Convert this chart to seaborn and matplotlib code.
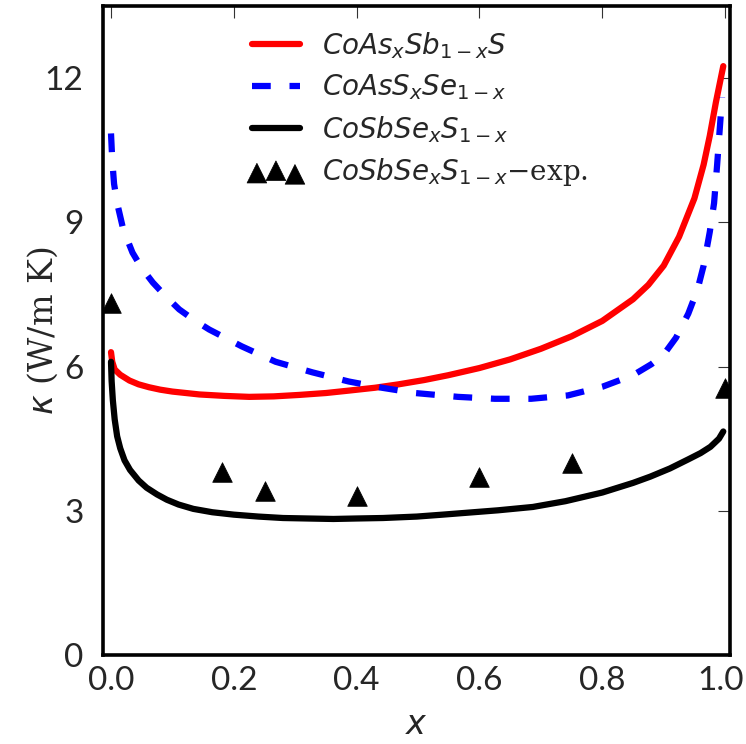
import numpy as np
import pandas as pd
import matplotlib
matplotlib.use("Agg")
import matplotlib.pyplot as plt
import matplotlib.transforms as mtransforms
import seaborn as sns
from matplotlib.legend_handler import HandlerPathCollection

# ---- data ----
red_x = [0.0, 0.002, 0.006, 0.015, 0.03, 0.045, 0.062, 0.08, 0.1, 0.144, 0.185, 0.225,
         0.265, 0.306, 0.35, 0.387, 0.43, 0.468, 0.51, 0.549, 0.6, 0.65, 0.7, 0.75,
         0.8, 0.85, 0.875, 0.9, 0.925, 0.95, 0.965, 0.975, 0.985, 0.993, 0.997]
red_y = [6.3, 6.1, 5.94, 5.83, 5.71, 5.63, 5.57, 5.52, 5.48, 5.42, 5.39, 5.37,
         5.38, 5.41, 5.45, 5.5, 5.56, 5.63, 5.72, 5.82, 5.97, 6.15, 6.37, 6.63,
         6.95, 7.4, 7.7, 8.1, 8.7, 9.5, 10.2, 10.8, 11.5, 12.0, 12.25]

blue_x = [0.0, 0.002, 0.005, 0.01, 0.02, 0.035, 0.05, 0.068, 0.09, 0.111, 0.135,
          0.16, 0.213, 0.268, 0.328, 0.387, 0.441, 0.495, 0.565, 0.625, 0.684,
          0.744, 0.8, 0.85, 0.88, 0.9, 0.92, 0.94, 0.955, 0.965, 0.975, 0.982,
          0.987, 0.991, 0.995]
blue_y = [10.85, 10.3, 9.8, 9.4, 8.85, 8.37, 8.05, 7.75, 7.45, 7.19, 6.97,
          6.77, 6.42, 6.1, 5.88, 5.69, 5.56, 5.45, 5.37, 5.33, 5.33,
          5.4, 5.58, 5.82, 6.05, 6.25, 6.6, 7.1, 7.6, 8.1, 8.8, 9.4,
          10.2, 10.9, 11.6]

black_x = [0.0, 0.001, 0.003, 0.006, 0.01, 0.015, 0.022, 0.031, 0.045, 0.058, 0.075,
           0.091, 0.11, 0.134, 0.165, 0.2, 0.24, 0.28, 0.32, 0.362, 0.4, 0.443,
           0.498, 0.54, 0.58, 0.63, 0.687, 0.74, 0.8, 0.85, 0.878, 0.91, 0.94,
           0.96, 0.976, 0.99, 0.997]
black_y = [6.1, 5.7, 5.3, 4.9, 4.55, 4.3, 4.05, 3.85, 3.63, 3.48, 3.34,
           3.23, 3.13, 3.04, 2.97, 2.92, 2.88, 2.85, 2.84, 2.83, 2.84, 2.85,
           2.88, 2.92, 2.96, 3.01, 3.08, 3.2, 3.38, 3.58, 3.71, 3.88, 4.07,
           4.2, 4.33, 4.5, 4.65]

exp_x = [0.0, 0.18, 0.25, 0.4, 0.6, 0.75, 1.0]
exp_y = [7.33, 3.81, 3.42, 3.31, 3.71, 4.0, 5.56]

labels = [r'$CoAs_xSb_{\mathsf{1}-x}S$',
          r'$CoAsS_xSe_{\mathsf{1}-x}$',
          r'$CoSbSe_xS_{\mathsf{1}-x}$',
          r'$CoSbSe_xS_{\mathsf{1}-x}{-}\mathrm{exp.}$']
xticks = [0.0, 0.2, 0.4, 0.6, 0.8, 1.0]
yticks = [0, 3, 6, 9, 12]

# ---- style ----
sns.set_theme(style="white")
plt.rcParams['font.family'] = ['Lato', 'DejaVu Sans']
plt.rcParams['mathtext.fontset'] = 'custom'
plt.rcParams['mathtext.it'] = 'DejaVu Sans:italic'
plt.rcParams['mathtext.rm'] = 'DejaVu Serif'
plt.rcParams['mathtext.sf'] = 'DejaVu Sans'
plt.rcParams['mathtext.bf'] = 'DejaVu Sans:bold'

fig = plt.figure(figsize=(7.46, 7.44), dpi=100)
ax = fig.add_axes([0.1381, 0.1196, 0.9786 - 0.1381, 0.9919 - 0.1196])

lw = 4.5
sns.lineplot(x=red_x, y=red_y, ax=ax, color='#ff0000', lw=lw, label=labels[0],
             sort=False, legend=False)
sns.lineplot(x=blue_x, y=blue_y, ax=ax, color='#0000ff', lw=lw, ls=(0, (3, 3)),
             label=labels[1], sort=False, legend=False)
sns.lineplot(x=black_x, y=black_y, ax=ax, color='black', lw=lw, label=labels[2],
             sort=False, legend=False)
sns.scatterplot(x=exp_x, y=exp_y, ax=ax, marker='^', color='black', s=200,
                edgecolor='black', linewidth=0.5, label=labels[3], legend=False,
                zorder=5)

ax.set_xlim(-0.013, 1.008)
ax.set_ylim(0, 13.5)
ax.set_xticks(xticks)
ax.set_xticklabels([f"{v:.1f}" for v in xticks])
ax.set_yticks(yticks)
ax.set_yticklabels([str(v) for v in yticks])
ax.tick_params(direction='in', length=8.6, width=0.8, color='#333333',
               top=True, right=True, labelsize=24, pad=8)
ax.tick_params(axis='y', pad=14)
for sp in ax.spines.values():
    sp.set_visible(True)
    sp.set_linewidth(2.6)
    sp.set_color('black')

# nudge the last x tick label so it stays inside the canvas
last = ax.get_xticklabels()[-1]
last.set_transform(last.get_transform() +
                   mtransforms.ScaledTranslation(-5 / 100, 0, fig.dpi_scale_trans))

ax.set_xlabel(r'$x$', fontsize=24, labelpad=10)
ax.set_ylabel(r'$\kappa\ \mathrm{(W/m\ K)}$', fontsize=24)
ax.yaxis.set_label_coords(-0.068, 0.5)

handles, labs = ax.get_legend_handles_labels()
sc = handles[-1]
leg = ax.legend(handles, labs, loc='upper left', bbox_to_anchor=(0.237, 0.963),
                frameon=False, fontsize=20, numpoints=1, scatterpoints=3,
                scatteryoffsets=[0.375, 0.5, 0.3125], handlelength=1.75,
                handletextpad=0.8, labelspacing=0.42, borderpad=0, borderaxespad=0,
                handler_map={sc: HandlerPathCollection(marker_pad=0.19)})

fig.savefig('out.png', dpi=100)
